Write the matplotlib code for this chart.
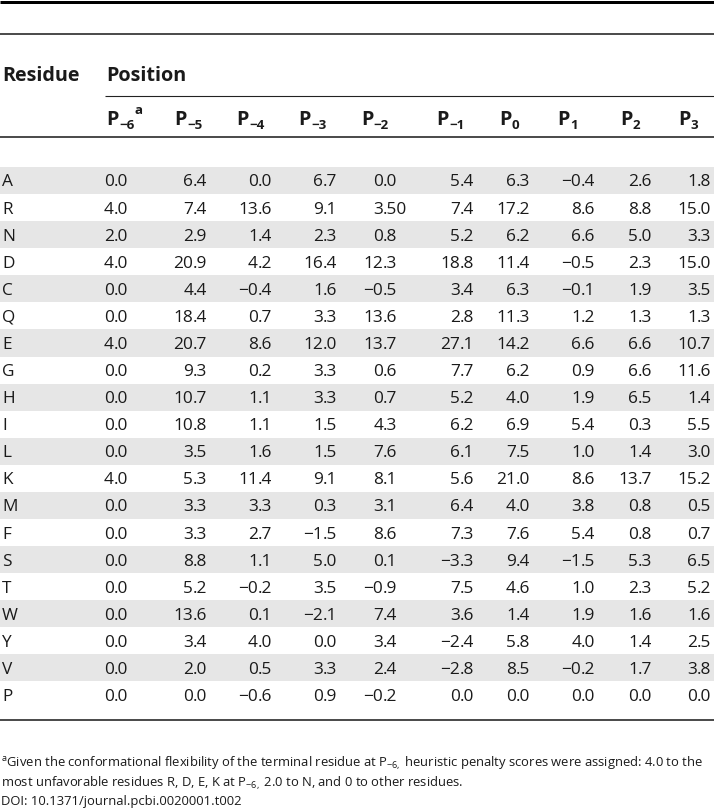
import matplotlib
matplotlib.use("Agg")
import matplotlib.pyplot as plt
from matplotlib.patches import Rectangle

plt.rcParams['font.family'] = ['Open Sans', 'DejaVu Sans']
plt.rcParams['mathtext.fontset'] = 'custom'
plt.rcParams['mathtext.rm'] = 'Open Sans'
plt.rcParams['mathtext.it'] = 'Open Sans:italic'
plt.rcParams['mathtext.bf'] = 'Open Sans:bold'

# ---------------- data ----------------
residues = ["A", "R", "N", "D", "C", "Q", "E", "G", "H", "I",
            "L", "K", "M", "F", "S", "T", "W", "Y", "V", "P"]
position_subs = ["\u22126", "\u22125", "\u22124", "\u22123", "\u22122", "\u22121",
                 "0", "1", "2", "3"]
position_marks = ["a", "", "", "", "", "", "", "", "", ""]
p_m6 = ["0.0", "4.0", "2.0", "4.0", "0.0", "0.0", "4.0", "0.0", "0.0", "0.0",
        "0.0", "4.0", "0.0", "0.0", "0.0", "0.0", "0.0", "0.0", "0.0", "0.0"]
p_m5 = ["6.4", "7.4", "2.9", "20.9", "4.4", "18.4", "20.7", "9.3", "10.7", "10.8",
        "3.5", "5.3", "3.3", "3.3", "8.8", "5.2", "13.6", "3.4", "2.0", "0.0"]
p_m4 = ["0.0", "13.6", "1.4", "4.2", "-0.4", "0.7", "8.6", "0.2", "1.1", "1.1",
        "1.6", "11.4", "3.3", "2.7", "1.1", "-0.2", "0.1", "4.0", "0.5", "-0.6"]
p_m3 = ["6.7", "9.1", "2.3", "16.4", "1.6", "3.3", "12.0", "3.3", "3.3", "1.5",
        "1.5", "9.1", "0.3", "-1.5", "5.0", "3.5", "-2.1", "0.0", "3.3", "0.9"]
p_m2 = ["0.0", "3.50", "0.8", "12.3", "-0.5", "13.6", "13.7", "0.6", "0.7", "4.3",
        "7.6", "8.1", "3.1", "8.6", "0.1", "-0.9", "7.4", "3.4", "2.4", "-0.2"]
p_m1 = ["5.4", "7.4", "5.2", "18.8", "3.4", "2.8", "27.1", "7.7", "5.2", "6.2",
        "6.1", "5.6", "6.4", "7.3", "-3.3", "7.5", "3.6", "-2.4", "-2.8", "0.0"]
p_0 = ["6.3", "17.2", "6.2", "11.4", "6.3", "11.3", "14.2", "6.2", "4.0", "6.9",
       "7.5", "21.0", "4.0", "7.6", "9.4", "4.6", "1.4", "5.8", "8.5", "0.0"]
p_1 = ["-0.4", "8.6", "6.6", "-0.5", "-0.1", "1.2", "6.6", "0.9", "1.9", "5.4",
       "1.0", "8.6", "3.8", "5.4", "-1.5", "1.0", "1.9", "4.0", "-0.2", "0.0"]
p_2 = ["2.6", "8.8", "5.0", "2.3", "1.9", "1.3", "6.6", "6.6", "6.5", "0.3",
       "1.4", "13.7", "0.8", "0.8", "5.3", "2.3", "1.6", "1.4", "1.7", "0.0"]
p_3 = ["1.8", "15.0", "3.3", "15.0", "3.5", "1.3", "10.7", "11.6", "1.4", "5.5",
       "3.0", "15.2", "0.5", "0.7", "6.5", "5.2", "1.6", "2.5", "3.8", "0.0"]
columns = [p_m6, p_m5, p_m4, p_m3, p_m2, p_m1, p_0, p_1, p_2, p_3]

footnote_lines = [
    r"${}^{\mathrm{a}}$Given the conformational flexibility of the terminal residue at "
    r"$\mathrm{P}_{-6,}$ heuristic penalty scores were assigned: 4.0 to the",
    r"most unfavorable residues R, D, E, K at $\mathrm{P}_{-6,}$ 2.0 to N, and 0 to other residues.",
    "DOI: 10.1371/journal.pcbi.0020001.t002",
]

# ---------------- layout ----------------
W, H = 714, 810
col_left = [106, 174, 236, 298, 361, 436, 499, 557, 620, 678]
col_dec = [114, 193, 258, 323, 383, 460, 516, 581, 638, 697]
row0 = 180.5
row_h = 27.08
TXT = "#1a1a1a"
BAND = "#e6e6e6"
LINE = "#222222"
body_size = 12.4
head_size = 14.2
sub_size = 9.6
foot_size = 10.8
foot_width = 702

fig = plt.figure(figsize=(W / 100, H / 100), dpi=100)
ax = fig.add_axes([0, 0, 1, 1])
ax.set_xlim(0, W)
ax.set_ylim(H, 0)
ax.axis("off")
renderer = fig.canvas.get_renderer()

px = 72 / 100  # points per pixel

# rules
ax.hlines(1.5, 0, W, color="black", lw=3 * px)
ax.hlines(34, 0, W, color=LINE, lw=1.6 * px)
ax.hlines(96, 105, W, color=LINE, lw=1.1 * px)
ax.hlines(137, 0, W, color=LINE, lw=1.6 * px)
ax.hlines(720, 0, W, color=LINE, lw=1.6 * px)

# header
ax.text(2, 81, "Residue", fontsize=head_size, fontweight="bold", color=TXT,
        ha="left", va="baseline")
ax.text(106, 81, "Position", fontsize=head_size, fontweight="bold", color=TXT,
        ha="left", va="baseline")
for x, sub, mark in zip(col_left, position_subs, position_marks):
    tp = ax.text(x, 125, "P", fontsize=head_size, fontweight="bold", color=TXT,
                 ha="left", va="baseline")
    xe = tp.get_window_extent(renderer).x1 + 0.5
    ts = ax.text(xe, 129, sub, fontsize=sub_size, fontweight="bold", color=TXT,
                 ha="left", va="baseline")
    if mark:
        xm = ts.get_window_extent(renderer).x1 + 0.5
        ax.text(xm, 114, mark, fontsize=sub_size, fontweight="bold", color=TXT,
                ha="left", va="baseline")

# body
for i, res in enumerate(residues):
    yc = row0 + i * row_h
    if i % 2 == 0:
        ax.add_patch(Rectangle((0, yc - row_h / 2), W, row_h, facecolor=BAND,
                               edgecolor="none", zorder=0))
    yb = yc + 6
    ax.text(2, yb, res, fontsize=body_size, color=TXT, ha="left", va="baseline")
    for xd, col in zip(col_dec, columns):
        s = col[i].replace("-", "\u2212")
        ip, fp = s.split(".")
        ax.text(xd, yb, ip, fontsize=body_size, color=TXT, ha="right", va="baseline")
        ax.text(xd, yb, "." + fp, fontsize=body_size, color=TXT, ha="left", va="baseline")

# footnote (size fitted so that the first line spans the table width)
foot_texts = []
for k, line in enumerate(footnote_lines):
    foot_texts.append(ax.text(1, 766 + k * 19.5, line, fontsize=foot_size, color=TXT,
                              ha="left", va="baseline"))
w0 = foot_texts[0].get_window_extent(renderer).width
fs = foot_size * foot_width / w0
for t in foot_texts:
    t.set_fontsize(fs)

fig.savefig("out.png", dpi=100)
